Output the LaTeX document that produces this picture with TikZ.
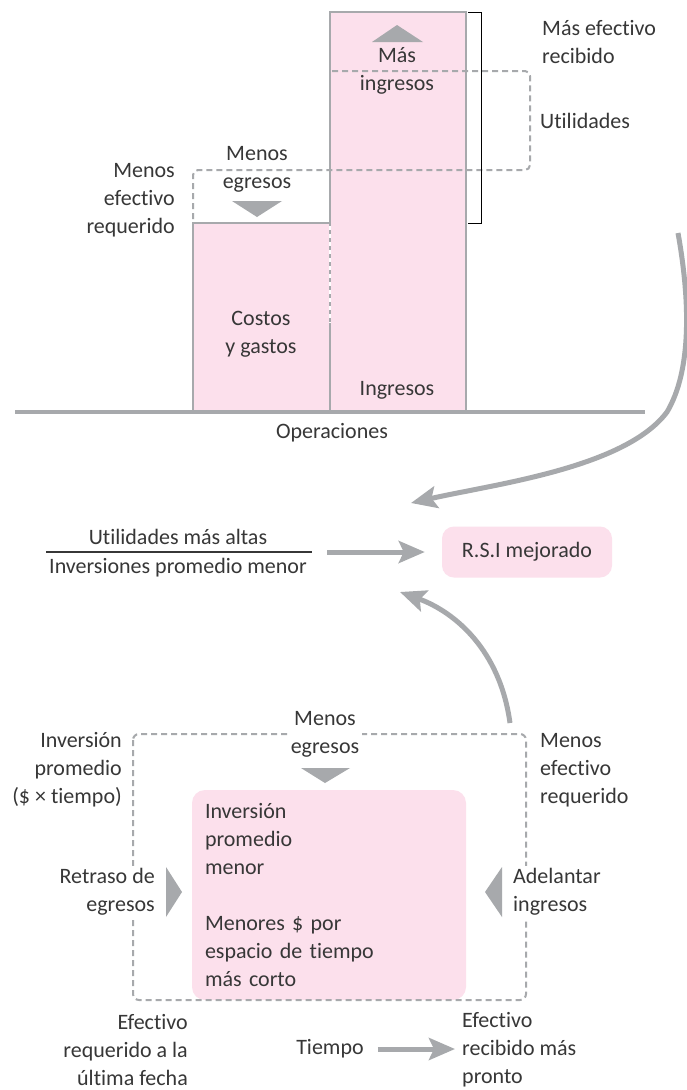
\documentclass[tikz,border=0pt]{standalone}
\usepackage{fontspec}
\setmainfont{Carlito}[Ligatures={NoCommon}]
\usetikzlibrary{arrows.meta}
\definecolor{pinkf}{RGB}{252,224,236}
\definecolor{grayl}{RGB}{167,169,172}
\definecolor{txt}{RGB}{55,55,55}
\begin{document}
\begin{tikzpicture}[x=1pt,y=-1pt,
  lbl/.style={font=\fontsize{22}{28}\selectfont, text=txt, inner sep=0pt},
  bar/.style={draw=grayl, line width=2.5pt},
  dsh/.style={draw=grayl, line width=2pt, dash pattern=on 6pt off 4pt},
  arr/.style={draw=grayl, line width=5pt, -{Stealth[length=26pt,width=22pt,inset=5pt]}},
  tri/.style={fill=grayl},
  pinkbox/.style={fill=pinkf, rounded corners=13pt},
]
\fill[white] (0,0) rectangle (686,1090);
\useasboundingbox (0,0) rectangle (686,1090);

% ---------- top: operations bars ----------
\fill[pinkf] (330,12) rectangle (466,412);
\fill[pinkf] (193,223) rectangle (330,412);
\draw[bar] (330,412) -- (330,12) -- (466,12) -- (466,412);
\draw[bar] (193,412) -- (193,223) -- (330,223);
\draw[white, line width=2.7pt, dash pattern=on 4pt off 4pt] (330,226) -- (330,323);
\draw[dsh, rounded corners=5pt] (332,71) -- (530,71) -- (530,170) -- (193,170) -- (193,223);
\draw[grayl, line width=4.5pt] (15,412) -- (645,412);
\draw[black, line width=1pt] (468,12) -- (481,12) -- (481,223) -- (468,223);
\fill[tri] (372,42) -- (423,42) -- (397,25) -- cycle;
\fill[tri] (232,201) -- (282,201) -- (257,217) -- cycle;

\node[lbl, anchor=west, align=left] (masef) at (542,42) {Más efectivo\\recibido};
\node[lbl, anchor=west] (util) at (540,121) {Utilidades};
\node[lbl, align=center] (masing) at (397,70.5) {Más\\ingresos};
\node[lbl, align=center] (menoseg1) at (257,169) {Menos\\egresos};
\node[lbl, anchor=east, align=right] (menosef1) at (175,200) {Menos\\efectivo\\requerido};
\node[lbl, align=center] (costos) at (261,334) {Costos\\y gastos};
\node[lbl] (ingresos) at (397,390) {Ingresos};
\node[lbl] (oper) at (332,433) {Operaciones};

% ---------- middle: ROI ----------
\node[lbl] (fnum) at (178,537) {Utilidades más altas};
\node[lbl] (fden) at (178,568) {Inversiones promedio menor};
\coordinate (barL) at (46,552);
\coordinate (barR) at (312,552);
\draw[txt, line width=1.2pt] (barL) -- (barR);
\node[lbl, pinkbox, minimum width=170pt, minimum height=51pt, rounded corners=12pt] (rsi) at (527,552) {R.S.I mejorado};
\draw[arr] ([xshift=15pt]barR) -- ([xshift=-17pt]rsi.west);

\coordinate (c1s) at (678,233);
\coordinate (c1m) at (667,412);
\coordinate (c1e) at (411,503);
\draw[arr] (c1s) .. controls (690,300) and (692,370) .. (c1m) .. controls (625,468) and (495,484) .. (c1e);

\coordinate (c2s) at (510,723);
\coordinate (c2e) at (400,592);
\draw[arr] (c2s) .. controls (500,650) and (455,612) .. (c2e);

% ---------- bottom: average investment ----------
\node[lbl, pinkbox, minimum width=274pt, minimum height=210pt, text width=248pt, align=left, inner xsep=13pt] (inv) at (329,895)
  {Inversión\\promedio\\menor\\\mbox{}\\Menores \$ por\\espacio de tiempo\\más corto};
\draw[dsh, rounded corners=6pt] (133,734) rectangle (526,1000);

\node[lbl, align=center, fill=white, inner sep=3pt] (menoseg2) at (325,734) {Menos\\egresos};
\fill[tri] (301,768) -- (350,768) -- (325,783) -- cycle;
\node[lbl, anchor=east, align=right] (invprom) at (122,770) {Inversión\\promedio\\(\$ × tiempo)};
\node[lbl, anchor=west, align=left] (menosef2) at (540,770) {Menos\\efectivo\\requerido};
\node[lbl, anchor=east, align=right, fill=white, inner sep=2pt] (retraso) at (157,892) {Retraso de\\egresos};
\node[lbl, anchor=west, align=left, fill=white, inner sep=2pt] (adel) at (511,892) {Adelantar\\ingresos};
\fill[tri] (166,867) -- (166,917) -- (182,892) -- cycle;
\fill[tri] (502,867) -- (502,917) -- (485,892) -- cycle;

\node[lbl, anchor=east, align=right] (efreq) at (188,1050) {Efectivo\\requerido a la\\última fecha};
\node[lbl] (tiempo) at (330,1049) {Tiempo};
\node[lbl, anchor=west, align=left] (efrec) at (462,1050) {Efectivo\\recibido más\\pronto};
\draw[arr] ([xshift=14pt]tiempo.east) -- ([xshift=-7pt]tiempo.east -| efrec.west);
\end{tikzpicture}
\end{document}
